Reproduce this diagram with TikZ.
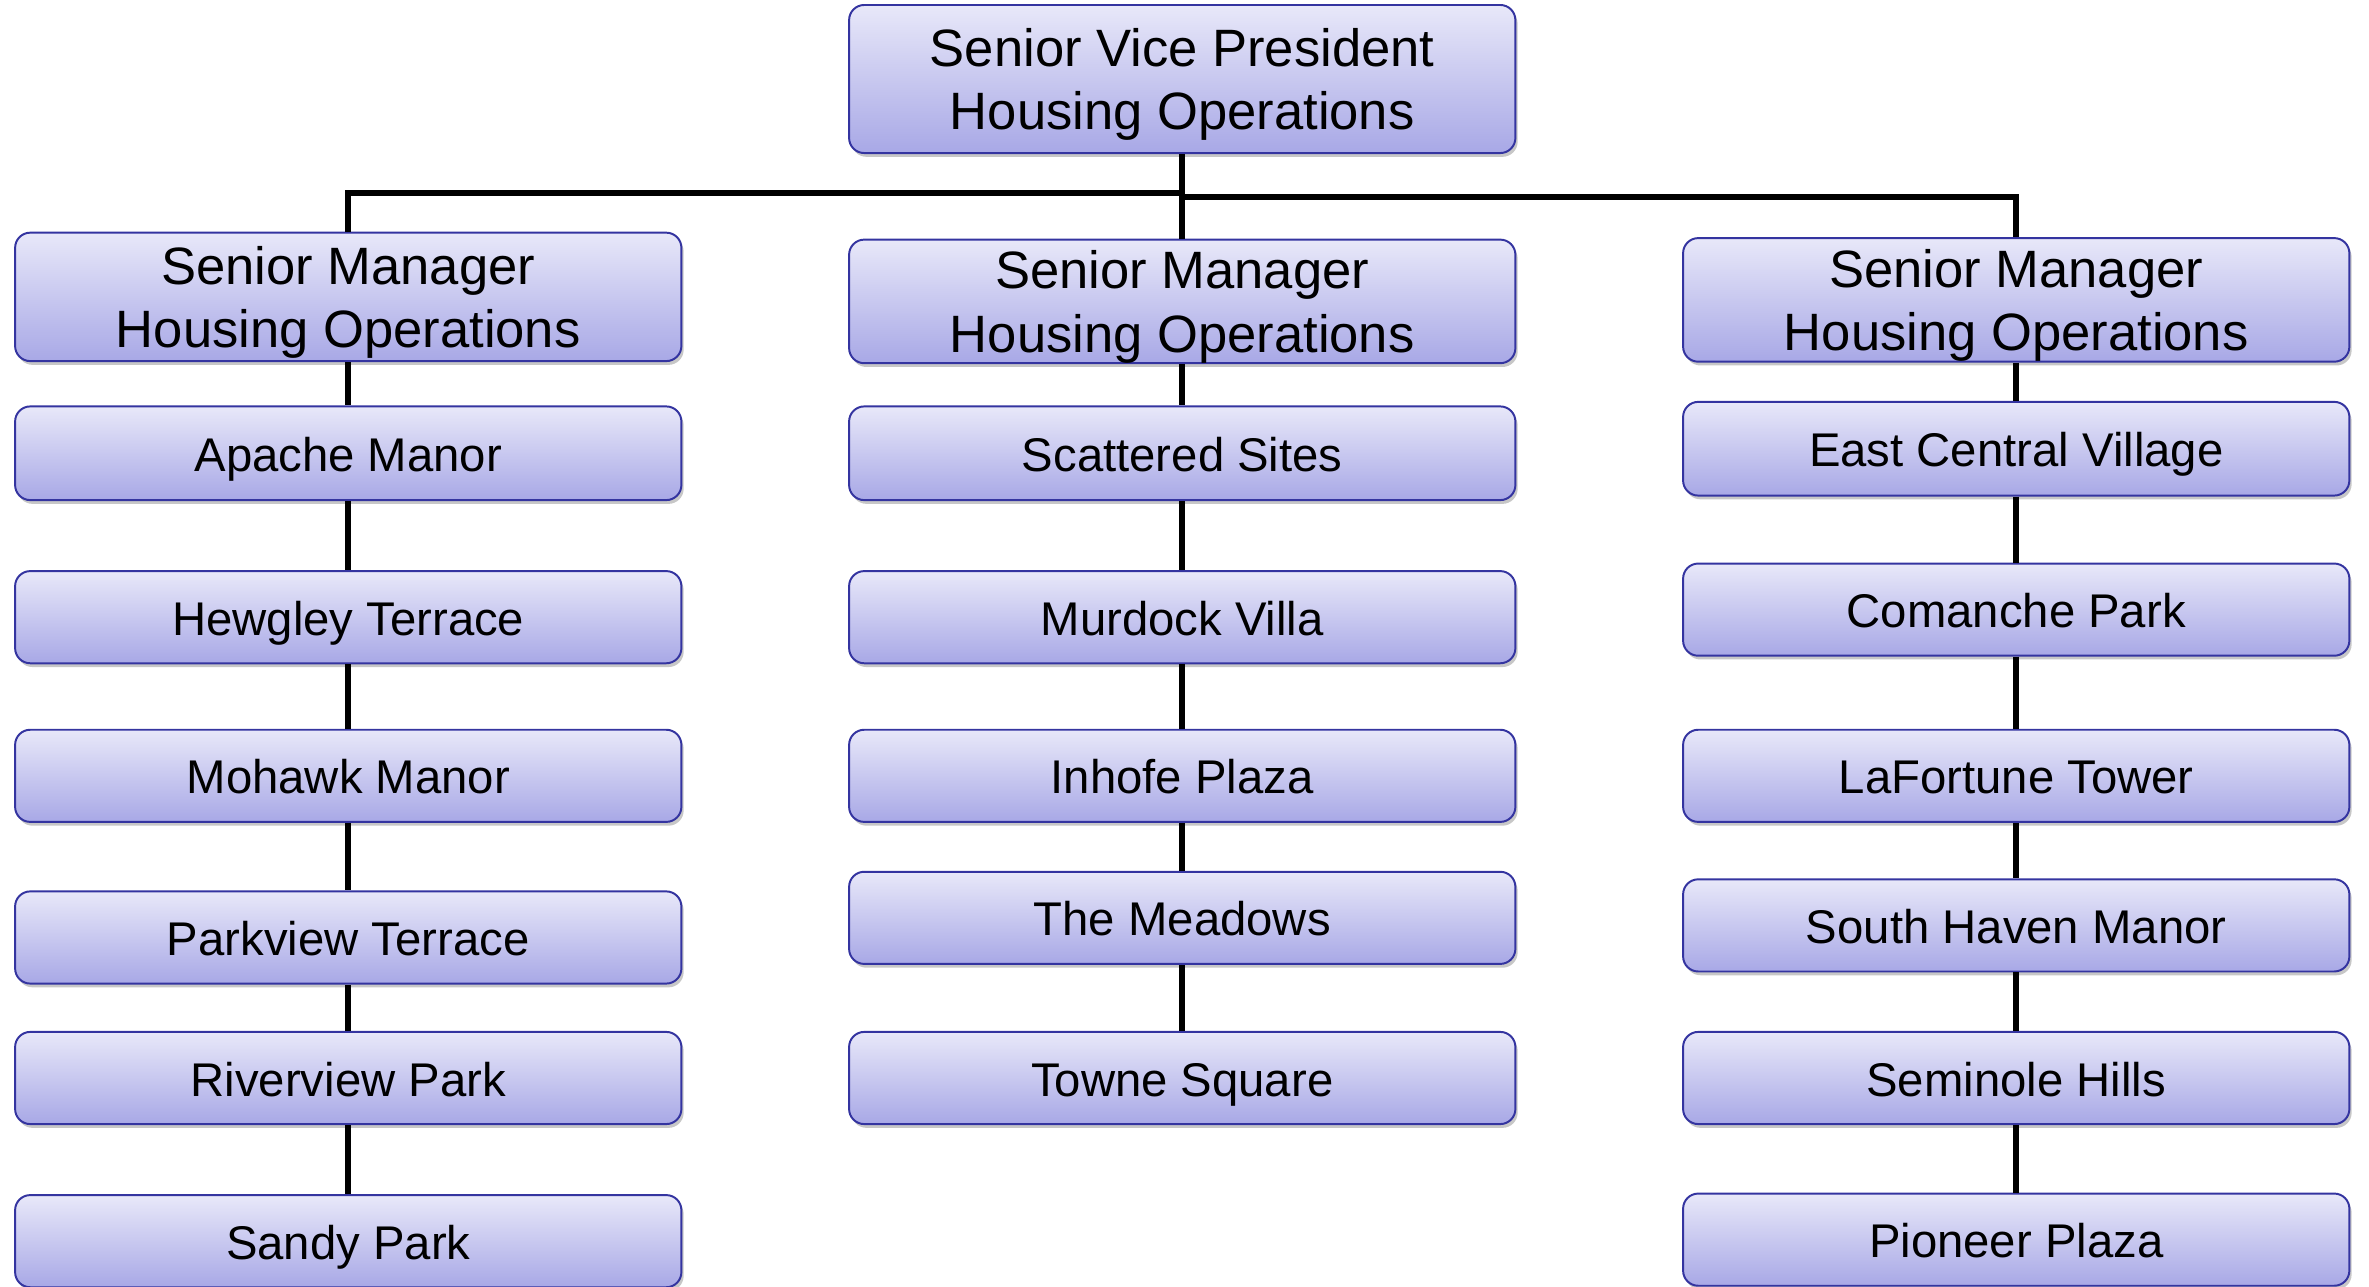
\documentclass[tikz,border=0pt]{standalone}
\usepackage{fontspec}
\setmainfont{Liberation Sans}
\usetikzlibrary{shadows}
\definecolor{boxtop}{HTML}{E8E8F9}
\definecolor{boxbot}{HTML}{A8A8E6}
\definecolor{bordc}{HTML}{3434A0}
\newcommand\hdfont{\fontsize{34.8}{42}\selectfont}
\newcommand\lffont{\fontsize{31.3}{37}\selectfont}
\tikzset{
  orgbox/.style={rectangle, rounded corners=10pt, draw=bordc, line width=1.3pt,
    top color=boxtop, bottom color=boxbot, minimum width=441pt, inner sep=0pt,
    align=center, drop shadow={shadow xshift=1.5pt, shadow yshift=-2.5pt, fill=black, opacity=0.22}},
  headbox/.style={orgbox, font=\hdfont, text height=74.5pt, text depth=7.3pt},
  leafbox/.style={orgbox, font=\lffont, minimum height=61pt, text height=30.5pt, text depth=6.5pt},
  conn/.style={draw=black, line width=4pt}
}
\begin{document}
\begin{tikzpicture}[x=1pt,y=-1pt]
\useasboundingbox (0,0) rectangle (1568,851.2);
\coordinate (busL) at (230.5,127.5);
\coordinate (busC) at (782.5,127.5);
\coordinate (busC2) at (782.5,130.3);
\coordinate (busR) at (1334.5,130.3);
% top
\node[headbox, minimum height=98pt] (top) at (782.5,52.3) {Senior Vice President\\Housing Operations};
% left column
\node[headbox, minimum height=85pt] (lsm) at (230.5,196.5) {Senior Manager\\Housing Operations};
\node[leafbox, minimum height=62pt] (l1) at (230.5,300) {Apache Manor};
\node[leafbox] (l2) at (230.5,408.5) {Hewgley Terrace};
\node[leafbox] (l3) at (230.5,513.5) {Mohawk Manor};
\node[leafbox] (l4) at (230.5,620.5) {Parkview Terrace};
\node[leafbox] (l5) at (230.5,713.5) {Riverview Park};
\node[leafbox] (l6) at (230.5,821.5) {Sandy Park};
% middle column
\node[headbox, minimum height=79pt] (msm) at (782.5,199.5) {Senior Manager\\Housing Operations};
\node[leafbox, minimum height=62pt] (m1) at (782.5,300) {Scattered Sites};
\node[leafbox] (m2) at (782.5,408.5) {Murdock Villa};
\node[leafbox] (m3) at (782.5,513.5) {Inhofe Plaza};
\node[leafbox] (m4) at (782.5,607.5) {The Meadows};
\node[leafbox] (m5) at (782.5,713.5) {Towne Square};
% right column
\node[headbox, minimum height=81pt] (rsm) at (1334.5,198.5) {Senior Manager\\Housing Operations};
\node[leafbox, minimum height=62pt] (r1) at (1334.5,297) {East Central Village};
\node[leafbox] (r2) at (1334.5,403.5) {Comanche Park};
\node[leafbox] (r3) at (1334.5,513.5) {LaFortune Tower};
\node[leafbox] (r4) at (1334.5,612.5) {South Haven Manor};
\node[leafbox] (r5) at (1334.5,713.5) {Seminole Hills};
\node[leafbox] (r6) at (1334.5,820.5) {Pioneer Plaza};
% connectors
\draw[conn] (top.south) -- (msm.north);
\draw[conn] (lsm.north) -- (busL) -- (busC);
\draw[conn] (busC2) -- (busR) -- (rsm.north);
\foreach \a/\b in {lsm/l1,l1/l2,l2/l3,l3/l4,l4/l5,l5/l6,msm/m1,m1/m2,m2/m3,m3/m4,m4/m5,rsm/r1,r1/r2,r2/r3,r3/r4,r4/r5,r5/r6}
  \draw[conn] (\a.south) -- (\b.north);
\end{tikzpicture}
\end{document}
